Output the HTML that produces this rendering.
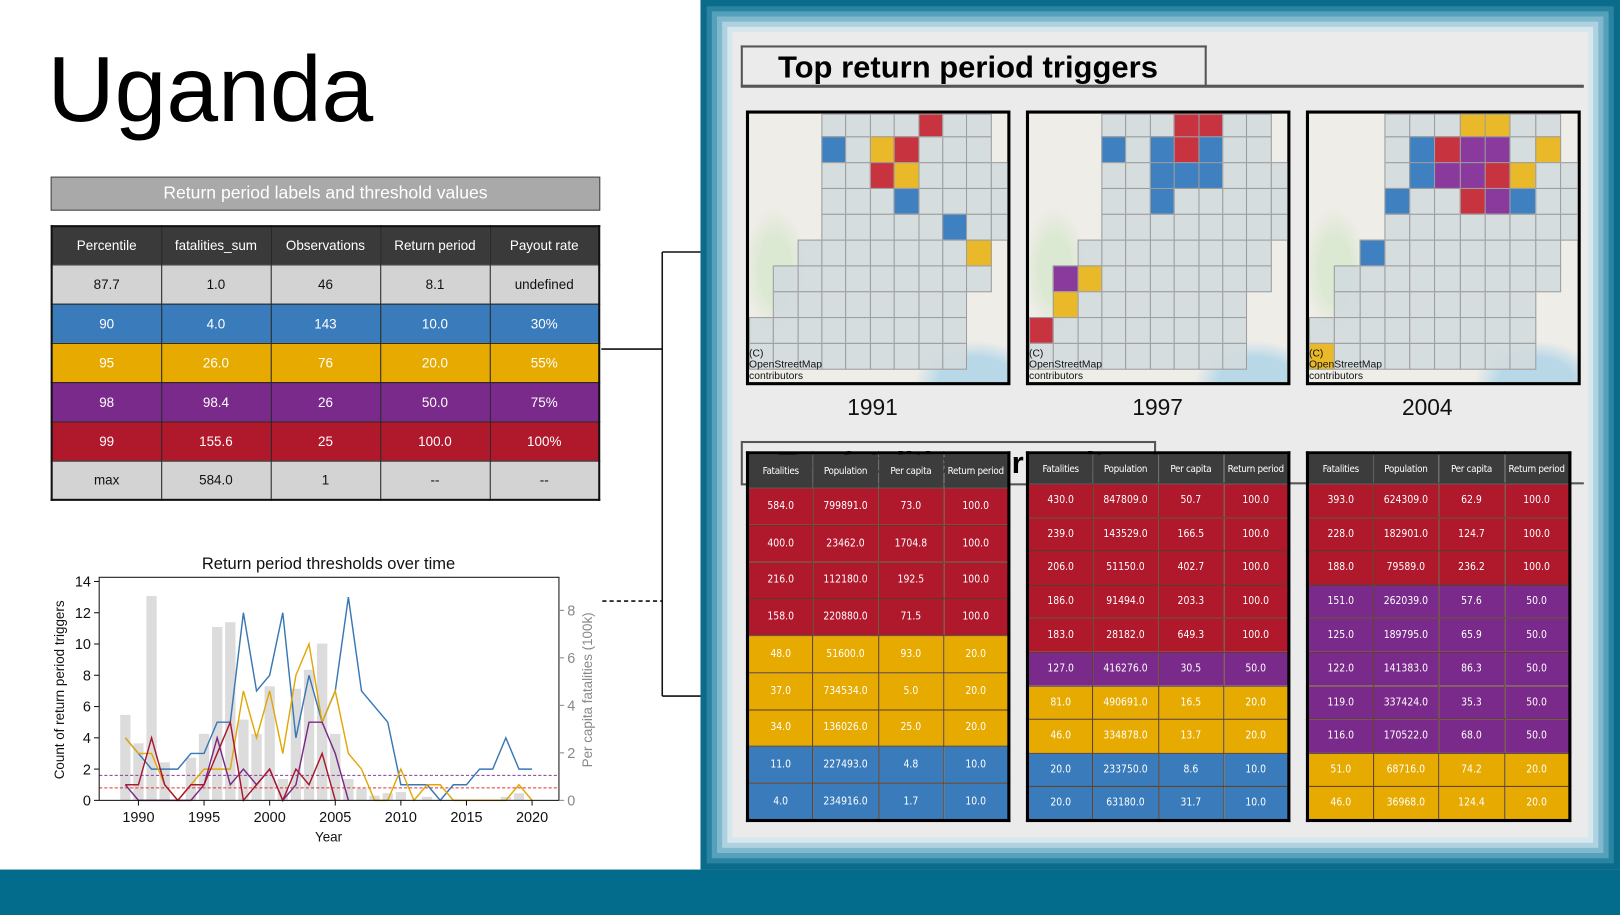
<!DOCTYPE html>
<html><head><meta charset="utf-8"><style>
*{box-sizing:border-box;margin:0;padding:0}
body{width:1620px;height:915px;overflow:hidden;background:#fff;font-family:"Liberation Sans","DejaVu Sans",sans-serif}
#stage{position:absolute;left:0;top:0;width:1568px;height:886px;transform:scale(1.03316,1.03273);transform-origin:0 0;background:#fff}
.abs{position:absolute}
table{border-collapse:collapse}
.lt{table-layout:fixed}
.lt td,.lt th{border:1.5px solid #222;text-align:center;font-size:13px;font-weight:normal}
.lt th{background:#3a3a3a;color:#fff;height:37px}
.lt td{height:38px}
.mt{position:absolute;border:3px solid #000;table-layout:fixed}
.mt td,.mt th{border:1px solid #5a3a20;text-align:center;font-size:10px;font-weight:normal;color:#fff;font-family:"DejaVu Sans Condensed","Liberation Sans",sans-serif;white-space:nowrap;overflow:hidden}
.mt th{background:#3c3c3c;border-color:#555;font-size:9.5px;letter-spacing:-0.3px}
.map{position:absolute;border:3px solid #000;overflow:hidden;background:
radial-gradient(ellipse 30px 60px at 25px 150px,#dbe8d2 0%,#dbe8d2 50%,transparent 100%),
radial-gradient(ellipse 60px 40px at 220px 260px,#b8d8e8 0%,#b8d8e8 60%,transparent 100%),
#efede8}
.attr{position:absolute;left:0;bottom:0;font-size:10px;line-height:11px;color:#111}
.yr{position:absolute;font-size:22px;color:#111}
</style></head><body>
<div id="stage">
  <div class="abs" style="left:46px;top:32px;font-size:90px;line-height:110px;color:#000">Uganda</div>
  <div class="abs" style="left:49px;top:171px;width:532px;height:33px;background:#a9a9a9;border:1.5px solid #444;color:#fff;font-size:17px;text-align:center;line-height:30px">Return period labels and threshold values</div>
  <table class="lt abs" style="left:49px;top:218px;width:532px;border:2.5px solid #111">
    <tr><th>Percentile</th><th>fatalities_sum</th><th>Observations</th><th>Return period</th><th>Payout rate</th></tr>
    <tr style="background:#d3d3d3;color:#111"><td>87.7</td><td>1.0</td><td>46</td><td>8.1</td><td>undefined</td></tr>
    <tr style="background:#3a7bbb;color:#fff"><td>90</td><td>4.0</td><td>143</td><td>10.0</td><td>30%</td></tr>
    <tr style="background:#e6aa00;color:#fff"><td>95</td><td>26.0</td><td>76</td><td>20.0</td><td>55%</td></tr>
    <tr style="background:#7a2a8a;color:#fff"><td>98</td><td>98.4</td><td>26</td><td>50.0</td><td>75%</td></tr>
    <tr style="background:#b0182c;color:#fff"><td>99</td><td>155.6</td><td>25</td><td>100.0</td><td>100%</td></tr>
    <tr style="background:#d3d3d3;color:#111"><td>max</td><td>584.0</td><td>1</td><td>--</td><td>--</td></tr>
  </table>

  <svg class="abs" style="left:0;top:0" width="700" height="886">
    <path d="M582 338 H641 M641 244 V674 M641 244 H680 M641 674 H680" stroke="#111" stroke-width="1.5" fill="none"/>
    <path d="M583 582 H641" stroke="#111" stroke-width="1.5" stroke-dasharray="4,3" fill="none"/>
  </svg>

  <svg id="chart" class="abs" style="left:0;top:520px" width="620" height="320"></svg>

  <div class="abs" style="left:678px;top:0;width:890px;height:842px;background:#ebebeb;box-shadow:inset 0 0 0 6px #0b6b8b,inset 0 0 0 11px #2a83a1,inset 0 0 0 16px #55a0ba,inset 0 0 0 21px #80b9cd,inset 0 0 0 26px #aed2df,inset 0 0 0 31px #d6e7ed"></div>
  <div class="abs" style="left:0;top:842px;width:1568px;height:44px;background:#036b8c"></div>

  <div class="abs" style="left:717px;top:44px;width:451px;height:40px;border:2px solid #555;border-bottom:none;font-weight:bold;font-size:30px;line-height:40px;padding-left:34px;color:#000">Top return period triggers</div>
  <div class="abs" style="left:717px;top:82px;width:816px;height:3px;background:#555"></div>
  <div class="abs" style="left:717px;top:427px;width:402px;height:43px;border:2px solid #555;font-weight:bold;font-size:30px;line-height:40px;padding-left:34px;color:#000;white-space:nowrap;overflow:hidden">Top fatalities per capita</div>
  <div class="abs" style="left:1118px;top:467px;width:415px;height:2px;background:#555"></div>

  <div id="maps"></div>
  <div class="yr" style="left:820px;top:382px">1991</div>
  <div class="yr" style="left:1096px;top:382px">1997</div>
  <div class="yr" style="left:1357px;top:382px">2004</div>
  <div id="tables"></div>
</div>
<script>
// ---------- chart data ----------
const years=[1989,1990,1991,1992,1993,1994,1995,1996,1997,1998,1999,2000,2001,2002,2003,2004,2005,2006,2007,2008,2009,2010,2011,2012,2013,2014,2015,2016,2017,2018,2019,2020];
const perCapita=[3.6,2.4,8.6,1.6,0,1.8,2.8,7.3,7.5,3.4,2.8,4.8,0.9,4.7,5.5,6.6,2.8,0.9,0.5,0.2,0.3,0.35,0,0.15,0,0,0,0,0,0.15,0.3,0];
const blueCounts=[4,3,2,2,2,3,3,5,5,12,7,8,12,4,8,5,7,13,7,6,5,1,1,1,0,1,1,2,2,4,2,2];
const yellowCounts=[4,3,3,1,0,1,2,2,2,7,4,7,3,8,10,5,7,3,2,0,0,2,0,1,1,0,0,0,0,0,1,0];
const purpleYears=[1989,1990,1991,1992,1993,1994,1995,1996,1997,1998,1999,2000,2001,2002,2003,2004,2005,2006];
const purpleCounts=[1,0,0,0,0,0,1,4,1,2,1,2,0,1,5,5,3,0];
const redYears=[1989,1990,1991,1992,1993,1994,1995,1996,1997,1998,1999,2000,2001,2002,2003,2004,2005];
const redCounts=[1,1,4,1,0,1,1,3,5,0,1,2,0,2,1,3,0];
const leftTicks=[0,2,4,6,8,10,12,14];
const rightTicks=[0,2,4,6,8];
const xTicks=[1990,1995,2000,2005,2010,2015,2020];
const purpleThreshold=1.6, redThreshold=0.8;

(function(){
const svg=document.getElementById('chart');const NS='http://www.w3.org/2000/svg';
const OY=520;
const X=y=>134+(y-1990)*12.7;
const YL=v=>775-OY-v*15.14;
const YR=v=>775-OY-v*23;
function mk(t,a,txt){const e=document.createElementNS(NS,t);for(const k in a)e.setAttribute(k,a[k]);if(txt!==undefined)e.textContent=txt;svg.appendChild(e);return e;}
perCapita.forEach((v,i)=>{const e=mk('rect',{x:X(years[i])-5,y:YR(v),width:10,height:775-OY-YR(v),fill:'#dcdcdc'});

});
let e=mk('line',{x1:96,x2:541,y1:YL(purpleThreshold),y2:YL(purpleThreshold),stroke:'#8a3aa0','stroke-width':1,'stroke-dasharray':'3,2'});


e=mk('line',{x1:96,x2:541,y1:YL(redThreshold),y2:YL(redThreshold),stroke:'#e03030','stroke-width':1,'stroke-dasharray':'3,2'});


function line(xs,vs,c,n){const p=mk('polyline',{points:vs.map((v,i)=>X(xs[i])+','+YL(v)).join(' '),fill:'none',stroke:c,'stroke-width':1.4});

}
line(years,blueCounts,'#3a78b4','series-rp10');
line(years,yellowCounts,'#e1a80a','series-rp20');
line(purpleYears,purpleCounts,'#7a2a85','series-rp50');
line(redYears,redCounts,'#a8182e','series-rp100');
mk('rect',{x:96,y:559-OY,width:445,height:216,fill:'none',stroke:'#111','stroke-width':1});
leftTicks.forEach(v=>{mk('line',{x1:91,x2:96,y1:YL(v),y2:YL(v),stroke:'#111'});const t=mk('text',{x:88,y:YL(v)+5,'text-anchor':'end','font-size':14,fill:'#111'},v);

});
rightTicks.forEach(v=>{mk('line',{x1:541,x2:546,y1:YR(v),y2:YR(v),stroke:'#888'});const t=mk('text',{x:549,y:YR(v)+5,'font-size':14,fill:'#888'},v);

});
xTicks.forEach(v=>{mk('line',{x1:X(v),x2:X(v),y1:775-OY,y2:780-OY,stroke:'#111'});const t=mk('text',{x:X(v),y:796-OY,'text-anchor':'middle','font-size':14,fill:'#111'},v);

});
e=mk('text',{x:318,y:31,'text-anchor':'middle','font-size':16,fill:'#111'},'Return period thresholds over time');


e=mk('text',{x:318,y:295,'text-anchor':'middle','font-size':13,fill:'#111'},'Year');


e=mk('text',{x:0,y:0,'text-anchor':'middle','font-size':13,fill:'#111',transform:'translate(62,148) rotate(-90)'},'Count of return period triggers');


e=mk('text',{x:0,y:0,'text-anchor':'middle','font-size':13,fill:'#888',transform:'translate(573,148) rotate(-90)'},'Per capita fatalities (100k)');


})();

// ---------- maps ----------
const C={r:'#c83340',y:'#e9b92a',b:'#3f80c0',p:'#8a3a9c'};
const rowStart=[3,3,3,3,3,2,1,1,0,0];
const rowEnd=[9,9,10,10,10,9,9,8,8,8];
const maps=[
 {x:722,w:256,cells:{'0,7':'r','1,3':'b','1,5':'y','1,6':'r','2,5':'r','2,6':'y','3,6':'b','4,8':'b','5,9':'y'}},
 {x:993,w:256,cells:{'0,6':'r','0,7':'r','1,3':'b','1,5':'b','1,6':'r','1,7':'b','2,5':'b','2,6':'b','2,7':'b','3,5':'b','6,1':'p','6,2':'y','7,1':'y','8,0':'r'}},
 {x:1264,w:266,cells:{'0,6':'y','0,7':'y','1,4':'b','1,5':'r','1,6':'p','1,7':'p','1,9':'y','2,4':'b','2,5':'p','2,6':'p','2,7':'r','2,8':'y','3,3':'b','3,6':'r','3,7':'p','3,8':'b','5,2':'b','9,0':'y'}}
];
(function(){
const host=document.getElementById('maps');
maps.forEach((m,mi)=>{
 const d=document.createElement('div');d.className='map';
 
 
 d.style.left=m.x+'px';d.style.top='107px';d.style.width=m.w+'px';d.style.height='266px';
 const cw=(m.w-6)/10.7, rh=25;
 let h='';
 for(let r=0;r<10;r++){for(let c=rowStart[r];c<=rowEnd[r];c++){
   const k=r+','+c;const col=m.cells[k]?C[m.cells[k]]:'rgba(210,218,222,0.9)';
   const top=r===0?0:(22+(r-1)*rh);const hh=r===0?22:rh;
   h+=`<div style="position:absolute;left:${c*cw}px;top:${top}px;width:${cw+1}px;height:${hh+1}px;background:${col};border:1px solid #9d9d9d"></div>`;}}
 h+='<div class="attr">(C)<br>OpenStreetMap<br>contributors</div>';
 d.innerHTML=h;host.appendChild(d);
});
})();

// ---------- tables ----------
const RC={r:'#b0182c',y:'#e6aa00',b:'#3a7bbb',p:'#7a2a8a'};
const t1=[['584.0','799891.0','73.0','100.0','r'],['400.0','23462.0','1704.8','100.0','r'],['216.0','112180.0','192.5','100.0','r'],['158.0','220880.0','71.5','100.0','r'],['48.0','51600.0','93.0','20.0','y'],['37.0','734534.0','5.0','20.0','y'],['34.0','136026.0','25.0','20.0','y'],['11.0','227493.0','4.8','10.0','b'],['4.0','234916.0','1.7','10.0','b']];
const t2=[['430.0','847809.0','50.7','100.0','r'],['239.0','143529.0','166.5','100.0','r'],['206.0','51150.0','402.7','100.0','r'],['186.0','91494.0','203.3','100.0','r'],['183.0','28182.0','649.3','100.0','r'],['127.0','416276.0','30.5','50.0','p'],['81.0','490691.0','16.5','20.0','y'],['46.0','334878.0','13.7','20.0','y'],['20.0','233750.0','8.6','10.0','b'],['20.0','63180.0','31.7','10.0','b']];
const t3=[['393.0','624309.0','62.9','100.0','r'],['228.0','182901.0','124.7','100.0','r'],['188.0','79589.0','236.2','100.0','r'],['151.0','262039.0','57.6','50.0','p'],['125.0','189795.0','65.9','50.0','p'],['122.0','141383.0','86.3','50.0','p'],['119.0','337424.0','35.3','50.0','p'],['116.0','170522.0','68.0','50.0','p'],['51.0','68716.0','74.2','20.0','y'],['46.0','36968.0','124.4','20.0','y']];
(function(){
const host=document.getElementById('tables');
[[t1,722,256,34],[t2,993,256,30],[t3,1264,257,30]].forEach(([rows,x,w,hh],i)=>{
 const t=document.createElement('table');t.className='mt';
 
 
 t.style.left=x+'px';t.style.top='437px';t.style.width=w+'px';
 const rh=(362-hh-6)/rows.length;
 let h=`<tr style="height:${hh}px"><th>Fatalities</th><th>Population</th><th>Per capita</th><th>Return period</th></tr>`;
 rows.forEach(r=>{h+=`<tr style="height:${rh}px;background:${RC[r[4]]}"><td>${r[0]}</td><td>${r[1]}</td><td>${r[2]}</td><td>${r[3]}</td></tr>`;});
 t.innerHTML=h;host.appendChild(t);
});
})();
</script>
</body></html>
